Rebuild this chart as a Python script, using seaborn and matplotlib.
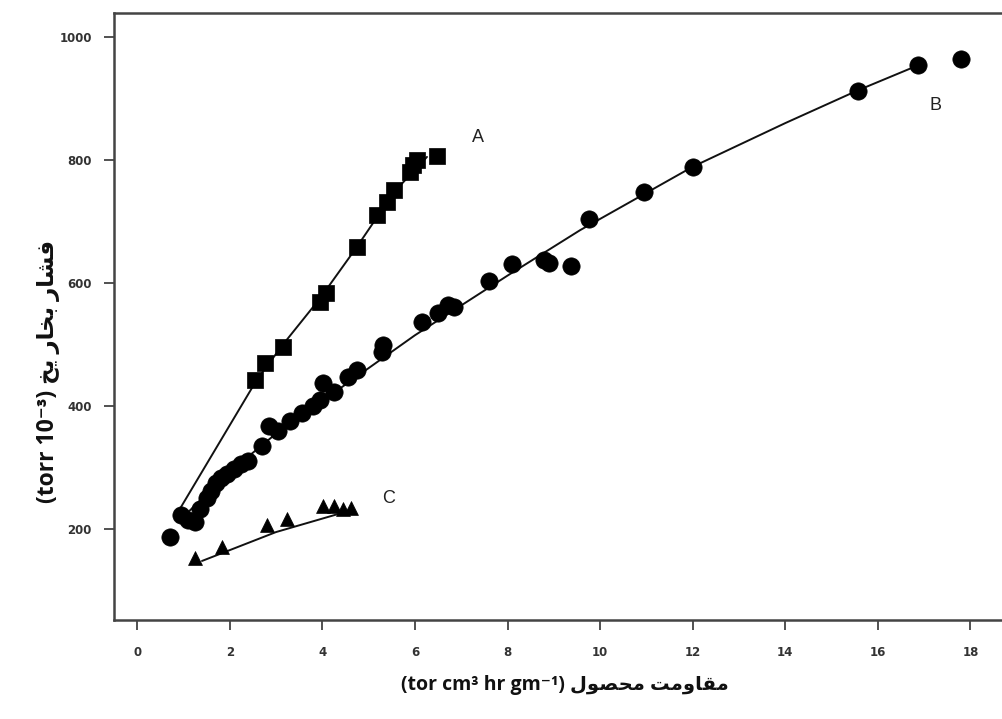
import numpy as np
import pandas as pd
import matplotlib
matplotlib.use("Agg")
import matplotlib.pyplot as plt
import seaborn as sns

# --- data ---
a_x = [2.55, 2.76, 3.15, 3.95, 4.08, 4.75, 5.18, 5.40, 5.55, 5.90, 5.96, 6.05, 6.48]
a_y = [442, 470, 496, 569, 584, 659, 711, 732, 751, 780, 792, 800, 806]

b_x = [0.71, 0.95, 1.10, 1.25, 1.35, 1.50, 1.60, 1.70, 1.80, 1.95, 2.10, 2.25, 2.40,
       2.70, 2.85, 3.05, 3.30, 3.55, 3.80, 3.95, 4.02, 4.25, 4.55, 4.75, 5.28, 5.32,
       6.15, 6.50, 6.72, 6.85, 7.60, 8.10, 8.78, 8.90, 9.38, 9.77, 10.95, 12.0,
       15.56, 16.87, 17.80]
b_y = [187, 222, 215, 212, 232, 250, 262, 275, 283, 290, 298, 305, 310,
       335, 368, 360, 375, 388, 400, 410, 437, 422, 447, 458, 488, 499,
       537, 552, 564, 561, 603, 631, 638, 632, 627, 704, 748, 789,
       913, 954, 965]

c_x = [1.25, 1.83, 2.80, 3.23, 4.02, 4.25, 4.45, 4.62]
c_y = [152, 171, 207, 216, 238, 237, 232, 234]

# fitted curves as drawn in the figure
fit_a_x = [0.87, 2.58, 3.15, 3.95, 4.74, 5.55, 6.26]
fit_a_y = [226, 442, 500, 575, 658, 748, 805]
fit_b_x = [1.0, 2.0, 3.0, 4.24, 6.0, 8.0, 9.57, 12.0, 14.0, 15.56, 16.87]
fit_b_y = [220, 293, 355, 421, 515, 612, 686, 789, 860, 913, 954]
fit_c_x = [1.4, 3.0, 4.6]
fit_c_y = [148, 195, 230]

x_ticks = [0, 2, 4, 6, 8, 10, 12, 14, 16, 18]
y_ticks = [200, 400, 600, 800, 1000]

# Persian labels, pre-shaped (presentation forms, visual order)
x_label = "(tor cm\u00b3 hr gm\u207b\u00b9) " + "\uFEDD\uFEEE\uFEBC\uFEA4\uFEE3 \uFE96\uFEE3\uFEED\uFE8E\uFED8\uFEE3"
y_label = "(torr 10\u207b\u00b3) " + "\uFEA6\uFEF3 \uFEAD\uFE8E\uFEA8\uFE91 \uFEAD\uFE8E\uFEB8\uFED3"

sns.set_theme(style="ticks")
plt.rcParams["font.family"] = ["DejaVu Sans"]

fig = plt.figure(figsize=(10.02, 7.19), dpi=100)
ax = fig.add_axes([0.1138, 0.1377, 0.90, 0.8442])

df_a = pd.DataFrame({"x": a_x, "y": a_y})
df_b = pd.DataFrame({"x": b_x, "y": b_y})
df_c = pd.DataFrame({"x": c_x, "y": c_y})

sns.lineplot(x=fit_a_x, y=fit_a_y, ax=ax, color="#111111", linewidth=1.4, sort=False)
sns.lineplot(x=fit_b_x, y=fit_b_y, ax=ax, color="#111111", linewidth=1.4, sort=False)
sns.lineplot(x=fit_c_x, y=fit_c_y, ax=ax, color="#111111", linewidth=1.4, sort=False)

sns.scatterplot(data=df_a, x="x", y="y", ax=ax, marker="s", s=120,
                color="black", edgecolor="black", linewidth=0.5, zorder=3)
sns.scatterplot(data=df_b, x="x", y="y", ax=ax, marker="o", s=155,
                color="black", edgecolor="black", linewidth=0.5, zorder=3)
sns.scatterplot(data=df_c, x="x", y="y", ax=ax, marker="^", s=100,
                color="black", edgecolor="black", linewidth=0.5, zorder=3)

ax.text(7.37, 837, "A", fontsize=13, color="#222222", family="Liberation Sans",
        ha="center", va="center")
ax.text(17.24, 889, "B", fontsize=13, color="#222222", family="Liberation Sans",
        ha="center", va="center")
ax.text(5.42, 250, "C", fontsize=13, color="#222222", family="Liberation Sans",
        ha="center", va="center")

ax.set_xlim(-0.5, 18.98)
ax.set_ylim(52, 1039)
ax.set_xticks(x_ticks)
ax.set_yticks(y_ticks)
ax.tick_params(axis="both", direction="out", length=7, width=1.2, color="#333333",
               labelsize=8.5, labelcolor="#333333")
ax.tick_params(axis="x", pad=12)
ax.tick_params(axis="y", pad=9)
for lab in ax.get_xticklabels() + ax.get_yticklabels():
    lab.set_fontweight("bold")

for side in ["left", "bottom", "top"]:
    ax.spines[side].set_color("#444444")
    ax.spines[side].set_linewidth(1.8)
ax.spines["right"].set_visible(False)

ax.set_xlabel(x_label, fontsize=14, fontweight="bold", color="#111111",
              family=["Open Sans", "DejaVu Sans"])
ax.set_ylabel(y_label, fontsize=16.5, fontweight="bold", color="#111111",
              family=["Open Sans", "DejaVu Sans"])
ax.xaxis.set_label_coords(0.5, -0.09)
ax.yaxis.set_label_coords(-0.06, 0.41)

fig.savefig("out.png", dpi=100, facecolor="white")
